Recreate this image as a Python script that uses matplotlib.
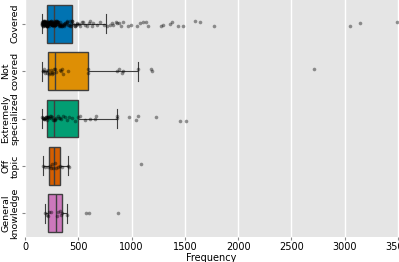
import numpy as np
import matplotlib
matplotlib.use("Agg")
import matplotlib.pyplot as plt
import seaborn as sns

categories = ["Covered", "Not\ncovered", "Extremely\nspecialized", "Off\ntopic", "General\nknowledge"]
colors = ["#0173b2", "#de8f05", "#029e73", "#d55e00", "#cc78bc"]

# box statistics (whislo, q1, median, q3, whishi)
whislo = [160, 162, 160, 172, 188]
q1 = [206, 219, 203, 225, 213]
median = [275, 284, 272, 269, 294]
q3 = [438, 588, 494, 325, 344]
whishi = [763, 1063, 866, 406, 394]

covered = [155, 158, 160, 162, 165, 166, 168, 170, 171, 172, 174, 175, 177, 178, 180, 181,
           182, 184, 185, 187, 188, 190, 191, 192, 194, 195, 197, 198, 200, 201, 202, 204,
           205, 207, 208, 210, 212, 213, 215, 217, 218, 220, 222, 223, 225, 228, 230, 231,
           233, 235, 238, 240, 241, 243, 245, 248, 250, 252, 253, 255, 258, 260, 262, 264,
           265, 268, 270, 272, 275, 277, 278, 280, 283, 286, 288, 290, 293, 296, 300, 303,
           304, 308, 312, 316, 318, 320, 325, 330, 333, 335, 340, 345, 350, 356, 362, 366,
           368, 375, 382, 390, 398, 405, 412, 420, 428, 436, 445, 455, 465, 478, 485, 490,
           163, 176, 189, 203, 216, 227, 237, 247, 257, 267, 282, 298, 314, 328, 347, 372,
           395, 418, 442, 470,
           505, 520, 532, 540, 560, 585, 598, 610, 625, 640, 673, 704, 741, 766, 797, 812,
           829, 850, 866, 880, 898, 920, 969, 991, 1048, 1075, 1110, 1132, 1157, 1273, 1298,
           1360, 1376, 1432, 1485, 1595, 1642, 1773, 3049, 3143, 3493]
not_covered = [166, 172, 180, 188, 200, 210, 219, 225, 235, 242, 250, 258, 265, 272, 281,
               290, 328, 338, 344, 353, 406, 588, 594, 860, 880, 907, 916, 1063, 1180, 1195, 2711]
extremely_specialized = [158, 165, 170, 175, 180, 186, 190, 195, 200, 205, 210, 215, 220, 226,
                         232, 240, 248, 255, 262, 270, 278, 285, 295, 305, 315, 325, 340, 355,
                         372, 390, 410, 438, 470, 500, 516, 560, 610, 657, 666, 860, 866, 979,
                         1041, 1063, 1226, 1454, 1510]
off_topic = [172, 190, 215, 230, 245, 255, 265, 280, 295, 310, 330, 350, 400, 410, 1090]
general_knowledge = [188, 203, 215, 228, 241, 297, 313, 330, 338, 344, 391, 572, 603, 869]

values = [covered, not_covered, extremely_specialized, off_topic, general_knowledge]

fig = plt.figure(figsize=(3.99, 2.62), dpi=100)
ax = fig.add_axes([25 / 399, 1 - 237 / 262, 373 / 399, 237 / 262])
ax.set_facecolor("#e5e5e5")
for s in ax.spines.values():
    s.set_visible(False)
ax.grid(axis="x", color="white", linewidth=1.0)
ax.set_axisbelow(True)

stats = []
for i in range(len(categories)):
    stats.append(dict(whislo=whislo[i], q1=q1[i], med=median[i], q3=q3[i], whishi=whishi[i], fliers=[]))

edge = "#3f3f3f"
bp = ax.bxp(stats, positions=range(len(categories)), widths=0.8, vert=False, patch_artist=True,
            showfliers=False,
            boxprops=dict(edgecolor=edge, linewidth=1.0),
            medianprops=dict(color=edge, linewidth=1.0),
            whiskerprops=dict(color=edge, linewidth=0.8),
            capprops=dict(color=edge, linewidth=0.8))
for patch, c in zip(bp["boxes"], colors):
    patch.set_facecolor(c)

np.random.seed(3)
for i, vals in enumerate(values):
    sns.stripplot(x=vals, y=[i] * len(vals), orient="h", native_scale=True, jitter=0.06,
                  color="black", alpha=0.4, size=2.6, linewidth=0, ax=ax)

ax.set_ylim(4.5, -0.5)
ax.set_xlim(0, 3500)
ax.set_yticks(range(len(categories)))
ax.set_yticklabels(categories, rotation=90, va="center", ha="right", multialignment="center",
                   fontsize=6.8, linespacing=1.0)
ax.tick_params(axis="y", pad=2, length=2, color="#888888")
ax.set_xticks([0, 500, 1000, 1500, 2000, 2500, 3000, 3500])
ax.tick_params(axis="x", labelsize=7, length=2, color="#888888", pad=1.5)
ax.set_xlabel("Frequency", fontsize=7, labelpad=1)
ax.set_ylabel("")

fig.savefig("out.png", dpi=100)
